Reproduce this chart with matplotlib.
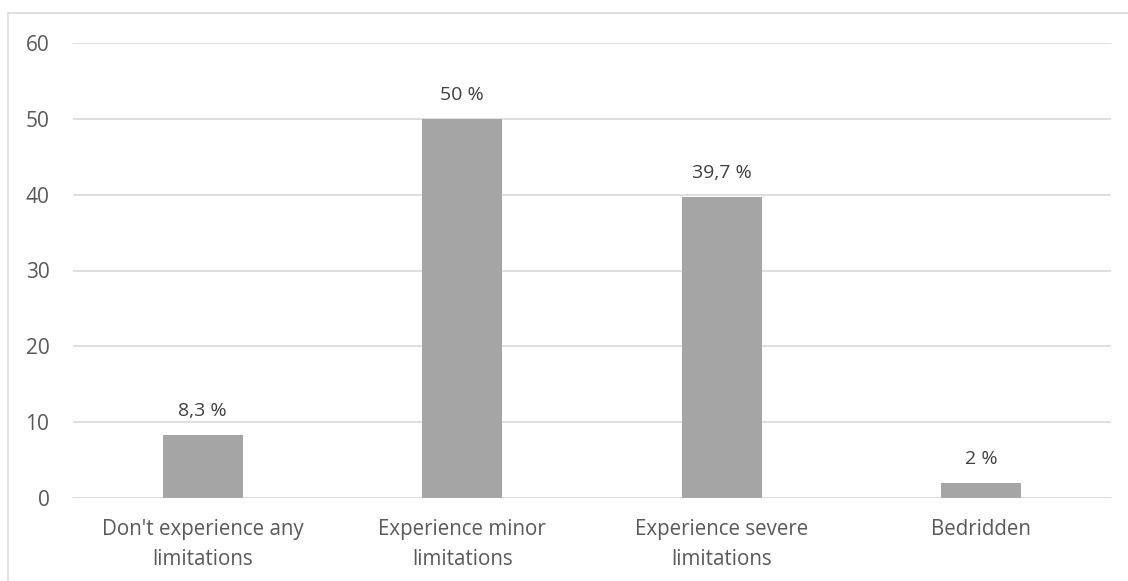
import numpy as np
import matplotlib.pyplot as plt
from matplotlib.patches import Rectangle

# Daten
Kategorien = ["Don't experience any\nlimitations", "Experience minor\nlimitations",
              "Experience severe\nlimitations", "Bedridden"]
Werte = np.array([8.3, 50, 39.7, 2])
Beschriftung = ["8,3 %", "50 %", "39,7 %", "2 %"]

plt.rcParams['font.family'] = ['Open Sans', 'DejaVu Sans']
textfarbe = "#595959"

fig = plt.figure(figsize=(11.28, 5.81), dpi=100)
ax = fig.add_axes([73/1128, 1-498/581, (1111-73)/1128, (498-43)/581])

# Rahmen um das Diagramm
fig.patches.append(Rectangle((8/1128, -0.1), 1.2, 1-13/581+0.1, transform=fig.transFigure,
                             fill=False, edgecolor="#D9D9D9", linewidth=1.2))

x = np.arange(len(Werte))
ax.bar(x, Werte, width=0.31, color="#A5A5A5", zorder=3)

for xi, w, t in zip(x, Werte, Beschriftung):
    ax.text(xi, w + 2.0, t, ha="center", va="bottom", fontsize=14, color="#404040")

ax.set_xlim(-0.5, 3.5)
ax.set_ylim(0, 60)
ax.set_yticks(range(0, 61, 10))
ax.set_xticks(x)
ax.set_xticklabels(Kategorien, fontsize=14.8, color=textfarbe, linespacing=1.55)
ax.tick_params(axis="y", labelsize=15, colors=textfarbe, length=0, pad=17)
ax.tick_params(axis="x", length=0, pad=15)
ax.grid(axis="y", color="#D9D9D9", linewidth=1.2, zorder=0)
for s in ax.spines.values():
    s.set_visible(False)

plt.savefig("out.png")
